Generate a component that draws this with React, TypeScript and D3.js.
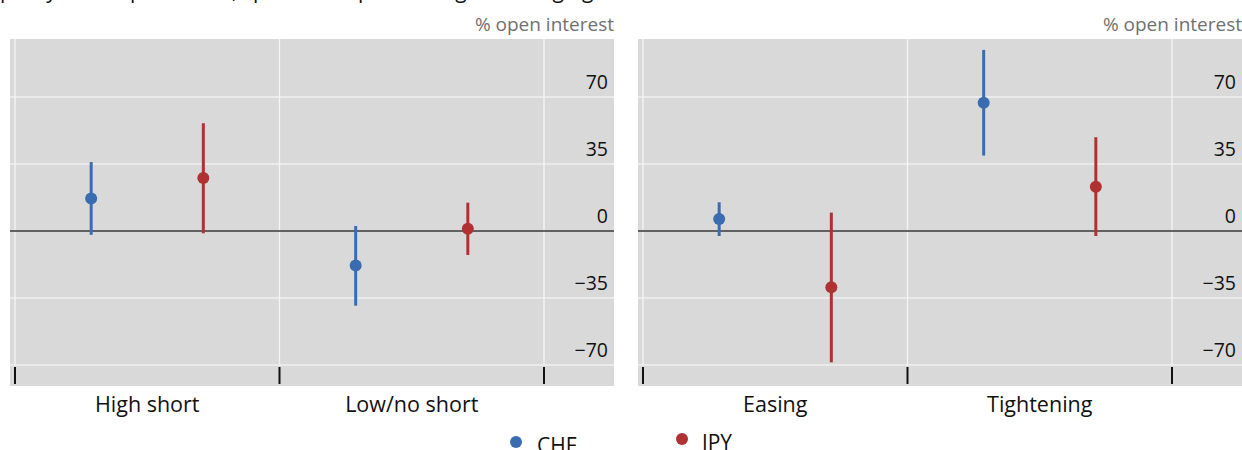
import React from "react";
import * as d3 from "d3";

const leftCategories = ["High short", "Low/no short"];
const rightCategories = ["Easing", "Tightening"];
const seriesNames = ["CHF", "JPY"];
const yTicks = [-70, -35, 0, 35, 70];

// [point, low, high] per category
const leftCHF = [[17, -2, 36], [-18, -39, 2.6]];
const leftJPY = [[27.7, -1.2, 56.3], [1.2, -12.5, 14.8]];
const rightCHF = [[6.3, -2.6, 15], [67, 39.4, 94.6]];
const rightJPY = [[-29.4, -68.6, 9.6], [23.1, -2.6, 49]];

const COLORS: Record<string, string> = { CHF: "#3a6cb2", JPY: "#b03131" };
const FONT = "'Open Sans', 'Noto Sans', sans-serif";

const H_TOP = 39;
const H_BOTTOM = 386;

function Panel({ x0, x1, categories, chf, jpy }: any) {
  const y = d3.scaleLinear().domain([-70, 70]).range([365, 97]);
  const bandStart = x0 + 5;
  const bandEnd = x1 - 70;
  const xb = d3.scaleBand<string>().domain(categories).range([bandStart, bandEnd]).padding(0);
  const bw = xb.bandwidth();
  const bounds = [bandStart, ...categories.map((c: string) => (xb(c) as number) + bw)];
  const off = bw * 0.212;
  const series = [
    { name: "CHF", data: chf, dx: -off },
    { name: "JPY", data: jpy, dx: off },
  ];
  return (
    <g>
      <rect x={x0} y={H_TOP} width={x1 - x0} height={H_BOTTOM - H_TOP} fill="#d9d9d9" />
      {yTicks.map((t) => (
        <line key={"h" + t} x1={x0} x2={x1} y1={y(t)} y2={y(t)} stroke="#efefef" strokeWidth={1.5} />
      ))}
      {bounds.map((b, i) => (
        <line key={"v" + i} x1={b} x2={b} y1={H_TOP} y2={y(-70)} stroke="#f4f4f4" strokeWidth={1.3} />
      ))}
      {bounds.map((b, i) => (
        <line key={"t" + i} x1={b} x2={b} y1={367} y2={384} stroke="#111" strokeWidth={2} />
      ))}
      <line x1={x0} x2={x1} y1={y(0)} y2={y(0)} stroke="#333" strokeWidth={1.6} />
      {yTicks.map((t) => (
        <text key={"l" + t} x={x1 - 6} y={y(t) - 8} textAnchor="end" fontSize={19.5} fill="#111" fontFamily={FONT}>
          {t < 0 ? "\u2212" + Math.abs(t) : String(t)}
        </text>
      ))}
      <text x={x1} y={31} textAnchor="end" fontSize={19} fill="#707070" fontFamily={FONT}>
        % open interest
      </text>
      {series.map((s) =>
        categories.map((c: string, i: number) => {
          const cx = (xb(c) as number) + bw / 2 + s.dx;
          const [v, lo, hi] = s.data[i];
          return (
            <g key={s.name + c}>
              <line x1={cx} x2={cx} y1={y(lo)} y2={y(hi)} stroke={COLORS[s.name]} strokeWidth={3} />
              <circle cx={cx} cy={y(v)} r={6} fill={COLORS[s.name]} />
            </g>
          );
        })
      )}
      {categories.map((c: string) => (
        <text key={"c" + c} x={(xb(c) as number) + bw / 2} y={412} textAnchor="middle" fontSize={21.5} fill="#111" fontFamily={FONT}>
          {c}
        </text>
      ))}
    </g>
  );
}

export default function App() {
  return (
    <svg width={1242} height={450} style={{ position: "absolute", left: 0, top: 0 }} fontFamily={FONT}>
      <rect x={0} y={0} width={1242} height={450} fill="#fff" />
      <text x={0} y={-2} fontSize={21} fill="#111" fontFamily={FONT}>
        policy rate expectations, speculative positioning and hedging
      </text>
      <Panel x0={10} x1={614} categories={leftCategories} chf={leftCHF} jpy={leftJPY} />
      <Panel x0={638} x1={1242} categories={rightCategories} chf={rightCHF} jpy={rightJPY} />
      <g>
        <circle cx={516} cy={442} r={6} fill={COLORS[seriesNames[0]]} />
        <text x={537} y={453} fontSize={21} fill="#111" fontFamily={FONT}>{seriesNames[0]}</text>
        <circle cx={682} cy={439} r={6} fill={COLORS[seriesNames[1]]} />
        <text x={702} y={450} fontSize={21} fill="#111" fontFamily={FONT}>{seriesNames[1]}</text>
      </g>
    </svg>
  );
}
